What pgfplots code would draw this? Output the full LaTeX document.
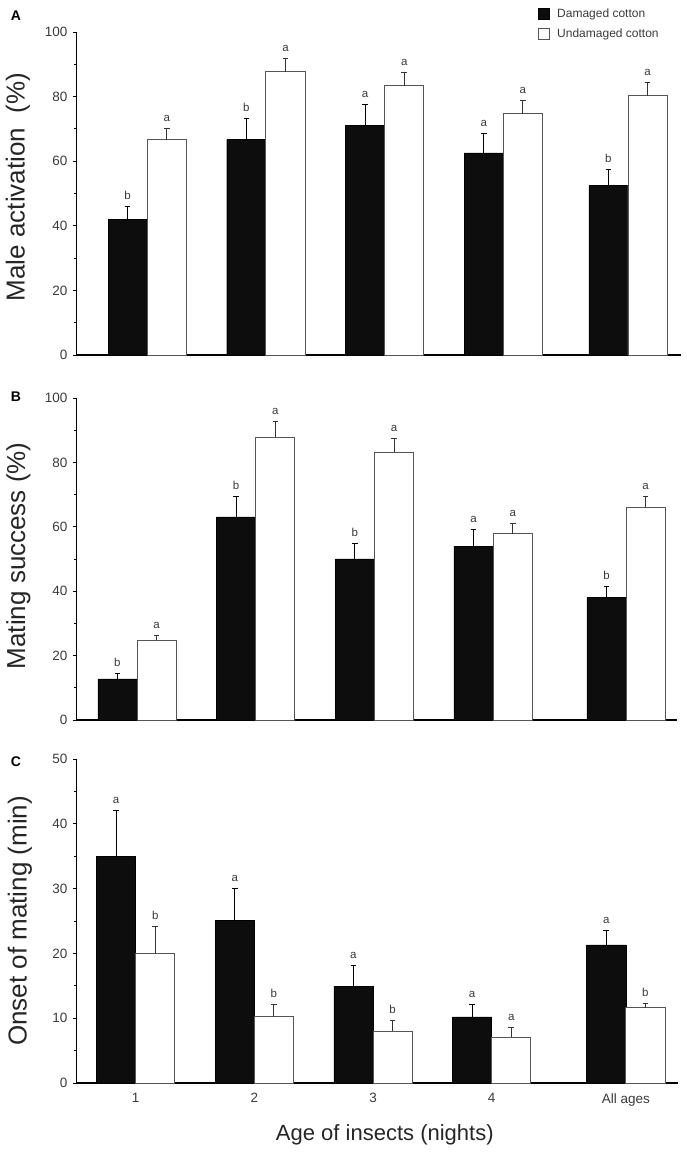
\documentclass[border=0pt]{standalone}
\usepackage{fontspec}
\setmainfont{Liberation Sans}
\usepackage{pgfplots}
\pgfplotsset{compat=1.18}
\usepackage{pgfplotstable}

\definecolor{txt}{HTML}{3A3A3A}
\definecolor{edge}{HTML}{555555}

% Panel A data
\pgfplotstableread{
x y e
0.835 42.0 4.0
1.835 66.7 6.5
2.835 71.1 6.6
3.835 62.6 6.1
4.885 52.5 4.8
}\Ablack
\pgfplotstableread{
x y e
1.165 66.7 3.5
2.165 87.7 4.2
3.165 83.3 4.3
4.165 74.7 4.2
5.215 80.2 4.2
}\Awhite
\pgfplotstableread{
x y lab
0.835 46.0 b
1.835 73.2 b
2.835 77.7 a
3.835 68.7 a
4.885 57.3 b
1.165 70.2 a
2.165 91.9 a
3.165 87.6 a
4.165 78.9 a
5.215 84.4 a
}\Alab

% Panel B data
\pgfplotstableread{
x y e
0.835 12.8 1.5
1.835 63.1 6.3
2.835 50.0 4.9
3.835 53.9 5.4
4.955 38.0 3.6
}\Bblack
\pgfplotstableread{
x y e
1.165 24.8 1.5
2.165 87.9 4.7
3.165 83.1 4.3
4.165 57.9 3.1
5.285 66.0 3.4
}\Bwhite
\pgfplotstableread{
x y lab
0.835 14.3 b
1.835 69.4 b
2.835 54.9 b
3.835 59.3 a
4.955 41.6 b
1.165 26.3 a
2.165 92.6 a
3.165 87.4 a
4.165 61.0 a
5.285 69.4 a
}\Blab

% Panel C data
\pgfplotstableread{
x y e
0.835 35.0 7.1
1.835 25.1 4.9
2.835 14.9 3.2
3.835 10.2 1.9
4.965 21.3 2.3
}\Cblack
\pgfplotstableread{
x y e
1.165 20.0 4.1
2.165 10.2 1.9
3.165 8.0 1.6
4.165 7.1 1.5
5.295 11.6 0.6
}\Cwhite
\pgfplotstableread{
x y lab
0.835 42.1 a
1.835 30.0 a
2.835 18.1 a
3.835 12.1 a
4.965 23.6 a
1.165 24.1 b
2.165 12.1 b
3.165 9.6 b
4.165 8.6 a
5.295 12.2 b
}\Clab

\pgfplotsset{
  panel/.style={
    scale only axis,
    anchor=south west,
    axis lines=left,
    axis line style={-, black},
    x axis line style={line width=1.3pt},
    y axis line style={line width=0.9pt},
    ymin=0,
    tick align=outside,
    major tick length=3pt,
    minor tick length=2pt,
    ytick style={black, line width=0.8pt},
    xtick style={draw=none},
    minor y tick num=1,
    /pgf/number format/assume math mode=true,
    yticklabel style={font=\fontsize{13.5}{15}\selectfont, text=txt, xshift=-2pt},
    xticklabel style={font=\fontsize{13.5}{15}\selectfont, text=txt, yshift=-4pt},
    ylabel style={font=\fontsize{26}{30}\selectfont, text=black!85, anchor=center},
    clip=false,
  },
  blk/.style={ybar, bar width=0.33, bar shift=0pt, fill=black!95, draw=black,
    error bars/.cd, y dir=plus, y explicit,
    error bar style={line width=0.9pt, black},
    error mark options={rotate=90, mark size=2.8pt, line width=0.9pt, black}},
  wht/.style={ybar, bar width=0.33, bar shift=0pt, fill=white, draw=edge, line width=0.9pt,
    error bars/.cd, y dir=plus, y explicit,
    error bar style={line width=0.9pt, black!80},
    error mark options={rotate=90, mark size=2.8pt, line width=0.9pt, black!80}},
  labs/.style={draw=none, mark=none, forget plot,
    nodes near coords, point meta=explicit symbolic,
    nodes near coords style={font=\fontsize{11.5}{13}\selectfont, text=txt, anchor=base, inner sep=0pt, yshift=7pt}},
}

\begin{document}
\begin{tikzpicture}
\path[use as bounding box] (0,0) rectangle (686pt,1152pt);

% Panel A
\begin{axis}[panel,
  at={(76pt,797pt)}, width=605pt, height=323pt,
  xmin=0.40, xmax=5.497, ymax=100,
  ytick={0,20,40,60,80,100}, xtick=\empty,
  ylabel={Male activation\ \ (\%)},
  ylabel style={at={(axis description cs:-0.096,0.52)}},
  legend style={at={(axis description cs:0.764,1.079)}, anchor=north west, draw=none, fill=none,
    font=\fontsize{12}{14}\selectfont, text=txt, row sep=6pt,
    legend cell align=left, inner sep=0pt,
    /tikz/every odd column/.append style={column sep=5pt}},
  legend image code/.code={\draw[#1, line width=0.8pt] (0pt,-5.5pt) rectangle (11pt,5.5pt);},
]
\addplot[blk] table[x=x, y=y, y error=e] {\Ablack};
\addlegendentry{Damaged cotton}
\addplot[wht] table[x=x, y=y, y error=e] {\Awhite};
\addlegendentry{Undamaged cotton}
\addplot[labs] table[x=x, y=y, meta=lab] {\Alab};
\end{axis}

% Panel B
\begin{axis}[panel,
  at={(76pt,432pt)}, width=601pt, height=322pt,
  xmin=0.486, xmax=5.549, ymax=100,
  ytick={0,20,40,60,80,100}, xtick=\empty,
  ylabel={Mating success (\%)},
  ylabel style={at={(axis description cs:-0.096,0.51)}},
]
\addplot[blk] table[x=x, y=y, y error=e] {\Bblack};
\addplot[wht] table[x=x, y=y, y error=e] {\Bwhite};
\addplot[labs] table[x=x, y=y, meta=lab] {\Blab};
\end{axis}

% Panel C
\begin{axis}[panel,
  at={(76pt,69pt)}, width=602pt, height=324pt,
  xmin=0.497, xmax=5.570, ymax=50,
  ytick={0,10,20,30,40,50},
  xtick={1,2,3,4,5.13}, xticklabels={1,2,3,4,All ages},
  ylabel={Onset of mating (min)},
  ylabel style={at={(axis description cs:-0.093,0.5)}},
  xlabel={Age of insects (nights)},
  xlabel style={font=\fontsize{22}{26}\selectfont, text=black!85, at={(axis description cs:0.513,-0.161)}, anchor=center},
]
\addplot[blk] table[x=x, y=y, y error=e] {\Cblack};
\addplot[wht] table[x=x, y=y, y error=e] {\Cwhite};
\addplot[labs] table[x=x, y=y, meta=lab] {\Clab};
\end{axis}

\node[font=\bfseries\fontsize{14}{16}\selectfont] at (16pt,1136pt) {A};
\node[font=\bfseries\fontsize{14}{16}\selectfont] at (16pt,755pt) {B};
\node[font=\bfseries\fontsize{14}{16}\selectfont] at (16pt,390pt) {C};
\end{tikzpicture}
\end{document}
